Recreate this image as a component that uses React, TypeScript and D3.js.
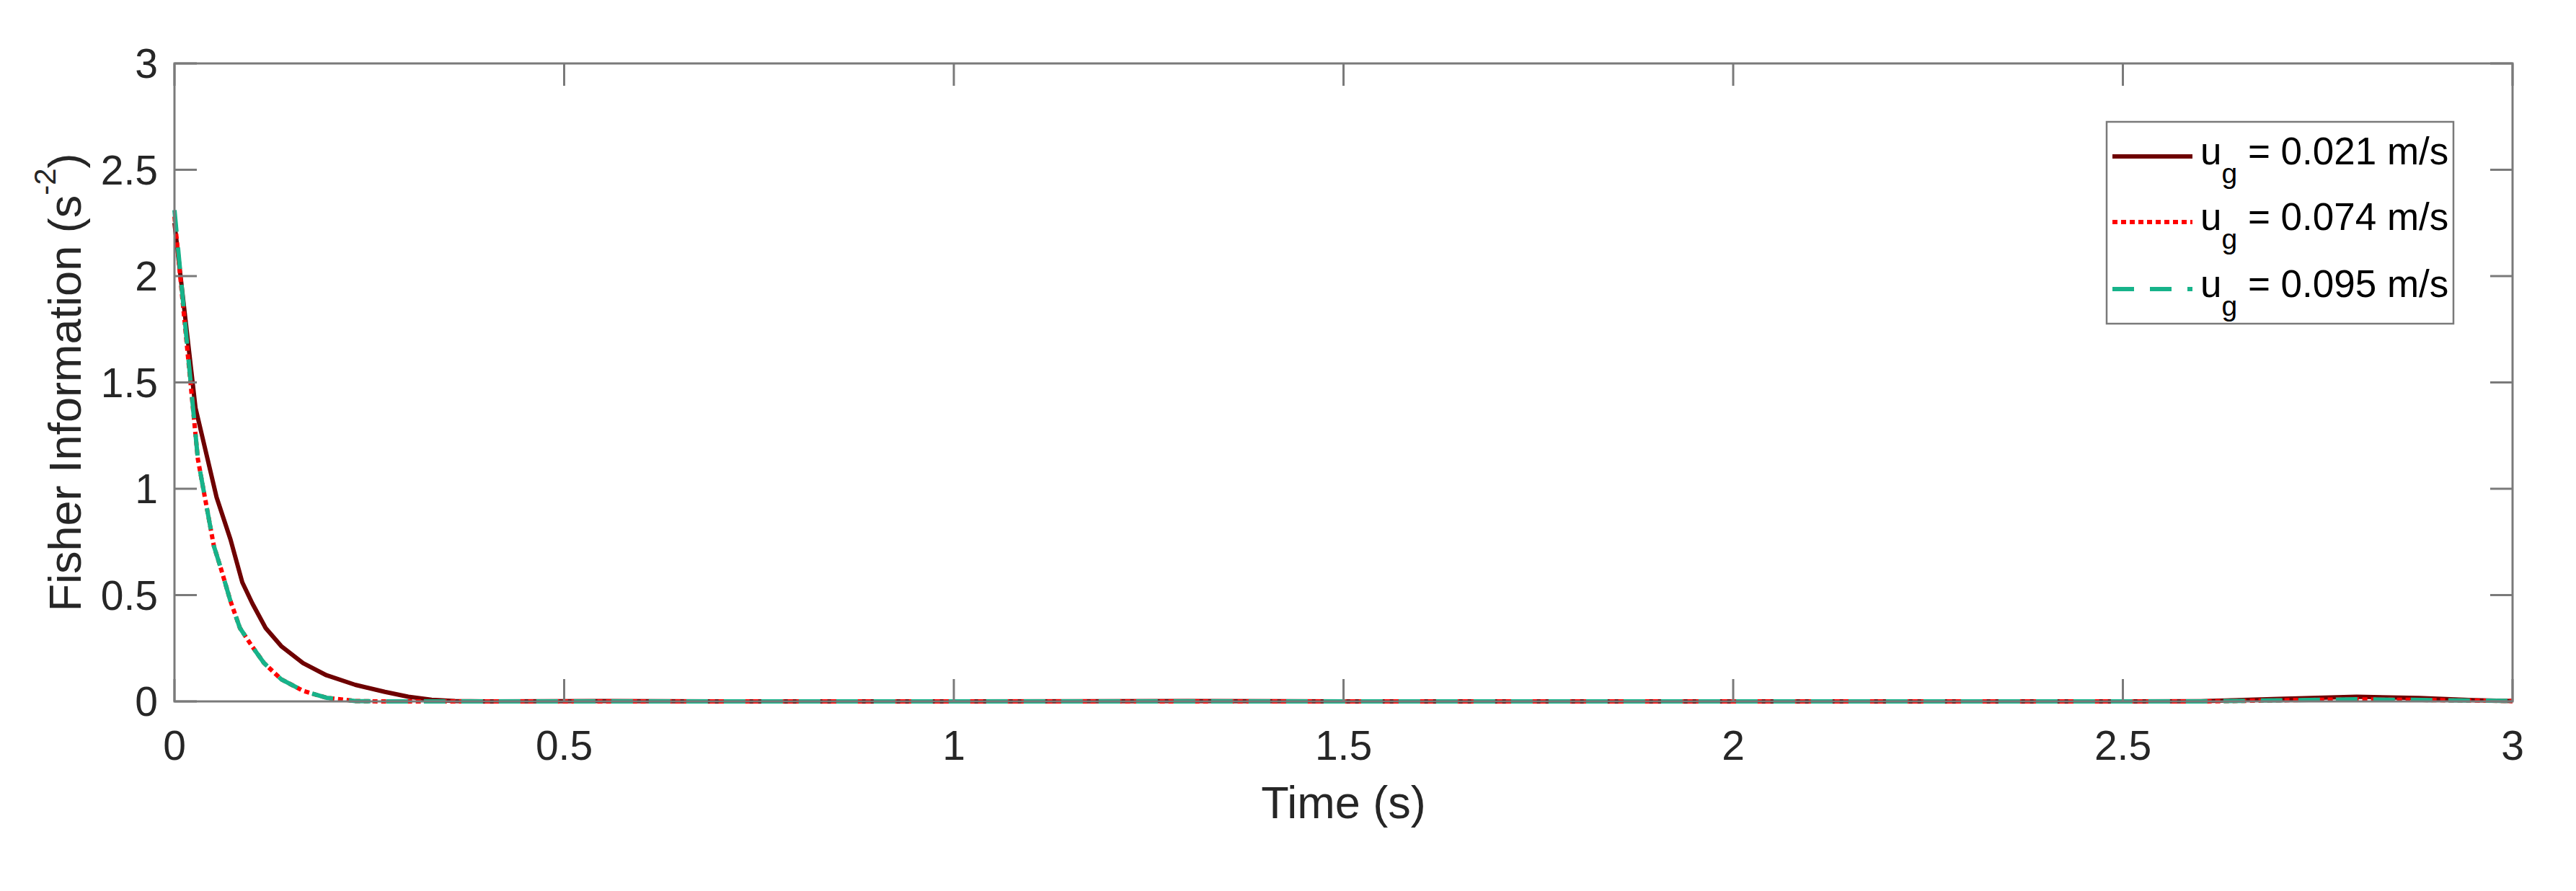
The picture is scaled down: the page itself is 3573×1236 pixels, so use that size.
import React from "react";
import * as d3 from "d3";

// ---- data ----
const xTicks = [0, 0.5, 1, 1.5, 2, 2.5, 3];
const yTicks = [0, 0.5, 1, 1.5, 2, 2.5, 3];
const xTickLabels = ["0", "0.5", "1", "1.5", "2", "2.5", "3"];
const yTickLabels = ["0", "0.5", "1", "1.5", "2", "2.5", "3"];

const seriesNames = ["0.021", "0.074", "0.095"];

// u_g = 0.021 m/s (solid dark red)
const timeA = [0, 0.027, 0.054, 0.072, 0.087, 0.1, 0.117, 0.137, 0.165, 0.195, 0.232, 0.27, 0.3, 0.33, 0.36, 0.4, 0.55, 0.7, 1.0, 1.3, 1.5, 2.0, 2.5, 2.6, 2.7, 2.8, 2.88, 2.95, 3.0];
const fisherA = [2.25, 1.38, 0.96, 0.76, 0.56, 0.46, 0.345, 0.26, 0.18, 0.123, 0.078, 0.045, 0.022, 0.008, 0.002, 0, 0.002, 0, 0, 0.002, 0, 0, 0, 0.001, 0.012, 0.022, 0.016, 0.006, 0.002];

// u_g = 0.074 m/s (dotted red)
const timeB = [0, 0.03, 0.042, 0.0506, 0.06, 0.072, 0.084, 0.1, 0.115, 0.137, 0.165, 0.195, 0.232, 0.26, 0.3, 0.5, 1.0, 1.5, 2.0, 2.5, 2.6, 2.7, 2.8, 2.9, 3.0];
const fisherB = [2.28, 1.14, 0.9, 0.73, 0.62, 0.47, 0.345, 0.257, 0.18, 0.104, 0.05, 0.017, 0.002, 0, 0, 0, 0, 0, 0, 0, 0, 0.005, 0.01, 0.006, 0.002];

// u_g = 0.095 m/s (dashed green)
const timeC = [0, 0.03, 0.042, 0.0506, 0.06, 0.072, 0.084, 0.1, 0.115, 0.137, 0.165, 0.195, 0.232, 0.26, 0.3, 0.5, 1.0, 1.5, 2.0, 2.5, 2.6, 2.7, 2.8, 2.9, 3.0];
const fisherC = [2.31, 1.14, 0.9, 0.73, 0.62, 0.47, 0.345, 0.257, 0.18, 0.104, 0.05, 0.017, 0.002, 0, 0, 0, 0, 0, 0, 0, 0, 0.005, 0.01, 0.006, 0.002];

// ---- layout / style ----
const W = 3573;
const H = 1236;
const M = { left: 242, right: 3485, top: 88, bottom: 973 };
const axisColor = "#7a7a7a";
const textColor = "#262626";
const font = "'Liberation Sans', Arial, Helvetica, sans-serif";

const styles = [
  { color: "#6e0000", dash: "none" },
  { color: "#ff0000", dash: "7 5" },
  { color: "#17b38a", dash: "30 22" },
];

export default function App() {
  const x = d3.scaleLinear().domain([0, 3]).range([M.left, M.right]);
  const y = d3.scaleLinear().domain([0, 3]).range([M.bottom, M.top]);
  const line = d3
    .line<[number, number]>()
    .x((d) => x(d[0]))
    .y((d) => y(d[1]));

  const series = [
    d3.zip(timeA, fisherA) as [number, number][],
    d3.zip(timeB, fisherB) as [number, number][],
    d3.zip(timeC, fisherC) as [number, number][],
  ];

  const tickLen = 31;
  const lw = 6;

  const legend = { x0: 2922, x1: 3403, y0: 169, y1: 449 };
  const rowY = [217, 308, 401];

  return (
    <svg
      width={W}
      height={H}
      style={{ position: "absolute", left: 0, top: 0, background: "#fff" }}
      fontFamily={font}
    >
      <rect x={0} y={0} width={W} height={H} fill="#fff" />
      <defs>
        <clipPath id="plotclip">
          <rect x={M.left - 4} y={M.top} width={M.right - M.left + 8} height={M.bottom - M.top + 6} />
        </clipPath>
      </defs>

      {/* data lines */}
      <g clipPath="url(#plotclip)" fill="none">
        {series.map((s, i) => (
          <path
            key={i}
            d={line(s) || ""}
            stroke={styles[i].color}
            strokeWidth={lw}
            strokeDasharray={styles[i].dash}
            strokeLinejoin="round"
          />
        ))}
      </g>

      {/* box */}
      <rect
        x={M.left}
        y={M.top}
        width={M.right - M.left}
        height={M.bottom - M.top}
        fill="none"
        stroke={axisColor}
        strokeWidth={3}
      />

      {/* ticks */}
      <g stroke={axisColor} strokeWidth={3}>
        {xTicks.map((t, i) => (
          <g key={"xt" + i}>
            <line x1={x(t)} x2={x(t)} y1={M.bottom} y2={M.bottom - tickLen} />
            <line x1={x(t)} x2={x(t)} y1={M.top} y2={M.top + tickLen} />
          </g>
        ))}
        {yTicks.map((t, i) => (
          <g key={"yt" + i}>
            <line x1={M.left} x2={M.left + tickLen} y1={y(t)} y2={y(t)} />
            <line x1={M.right} x2={M.right - tickLen} y1={y(t)} y2={y(t)} />
          </g>
        ))}
      </g>

      {/* tick labels */}
      <g fill={textColor} fontSize={57}>
        {xTicks.map((t, i) => (
          <text key={"xl" + i} x={x(t)} y={M.bottom + 81} textAnchor="middle">
            {xTickLabels[i]}
          </text>
        ))}
        {yTicks.map((t, i) => (
          <text key={"yl" + i} x={M.left - 23} y={y(t) + 20} textAnchor="end">
            {yTickLabels[i]}
          </text>
        ))}
      </g>

      {/* axis titles */}
      <text
        x={(M.left + M.right) / 2}
        y={1135}
        textAnchor="middle"
        fontSize={63}
        fill={textColor}
      >
        Time (s)
      </text>
      <text
        transform={`translate(112, ${(M.top + M.bottom) / 2}) rotate(-90)`}
        textAnchor="middle"
        fontSize={63}
        fill={textColor}
      >
        Fisher Information (s
        <tspan dy={-35} fontSize={42}>
          -2
        </tspan>
        <tspan dy={35}>)</tspan>
      </text>

      {/* legend */}
      <rect
        x={legend.x0}
        y={legend.y0}
        width={legend.x1 - legend.x0}
        height={legend.y1 - legend.y0}
        fill="#fff"
        stroke={axisColor}
        strokeWidth={2.5}
      />
      {seriesNames.map((name, i) => (
        <g key={"lg" + i}>
          <line
            x1={2930}
            x2={3041}
            y1={rowY[i]}
            y2={rowY[i]}
            stroke={styles[i].color}
            strokeWidth={lw}
            strokeDasharray={styles[i].dash}
          />
          <text x={3052} y={rowY[i] + 11} fontSize={53} fill="#000">
            u
            <tspan dy={26} fontSize={39}>
              g
            </tspan>
            <tspan dy={-26}>{` = ${name} m/s`}</tspan>
          </text>
        </g>
      ))}
    </svg>
  );
}
